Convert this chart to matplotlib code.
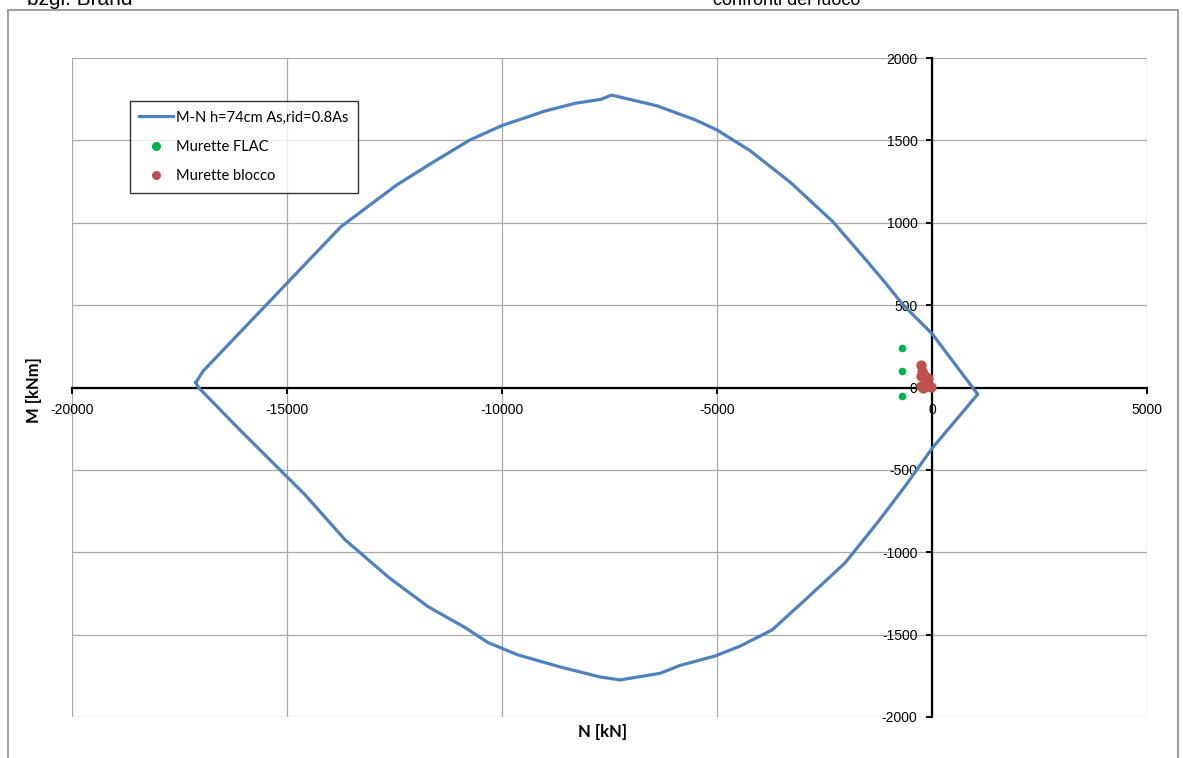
import matplotlib
matplotlib.use("Agg")
import matplotlib.pyplot as plt
from matplotlib.lines import Line2D
from matplotlib.patches import Rectangle

plt.rcParams["axes.unicode_minus"] = False

# ---- data ----
# M-N interaction curve (N [kN], M [kNm]), upper branch left->right, lower branch right->left
curve_N = [-17120, -16950, -13750, -12450, -11650, -10750, -10000, -9000, -8300, -7700,
           -7450, -6400, -5500, -5000, -4250, -3300, -2300, -1520, -1100, -667, 0, 1063,
           0, -628, -1256, -2023, -2953, -3721, -4465, -5047, -5860, -6326, -7256,
           -7721, -8651, -9628, -10326, -10860, -11721, -12628, -13651, -14581, -16093,
           -17070, -17120]
curve_M = [30, 100, 975, 1229, 1360, 1502, 1590, 1678, 1725, 1749,
           1775, 1710, 1624, 1563, 1441, 1247, 1005, 770, 640, 500, 327, -41,
           -370, -600, -816, -1065, -1290, -1472, -1570, -1630, -1687, -1735, -1775,
           -1757, -1696, -1623, -1548, -1457, -1330, -1154, -924, -651, -258,
           3, 30]

flac_N = [-703, -703, -703]
flac_M = [240, 99, -53]

blocco_N = [-250, -230, -255, -180, -95, -255, -150, -80, -30, -200]
blocco_M = [135, 100, 68, 75, 60, 10, 20, 8, 5, -5]

x_ticks = [-20000, -15000, -10000, -5000, 0, 5000]
y_ticks = [-2000, -1500, -1000, -500, 0, 500, 1000, 1500, 2000]

label_curve = "M-N h=74cm As,rid=0.8As"
label_flac = "Murette FLAC"
label_blocco = "Murette blocco"

# ---- figure ----
W, H = 1183, 758
fig = plt.figure(figsize=(W / 100, H / 100), dpi=100)
fig.patch.set_facecolor("white")

# outer chart frame
fig.add_artist(Rectangle((8 / W, 1 - 1000 / H), (1178 - 8) / W, (1000 - 10) / H,
                         transform=fig.transFigure, fill=False,
                         edgecolor="#8c8c8c", linewidth=1.2))

# cut-off page text
fig.text(27 / W, 1 - 5 / H, "bzgl. Brand", family="Liberation Sans", fontsize=15,
         ha="left", va="baseline")
fig.text(713 / W, 1 - 5 / H, "confronti del fuoco", family="Liberation Sans", fontsize=13,
         ha="left", va="baseline")

ax = fig.add_axes([72 / W, (H - 717) / H, 1075 / W, 659 / H])
ax.set_xlim(-20000, 5000)
ax.set_ylim(-2000, 2000)
ax.set_xticks(x_ticks)
ax.set_yticks(y_ticks)
ax.grid(True, color="#aaaaaa", linewidth=0.9)
ax.set_axisbelow(True)

for s in ["top", "right"]:
    ax.spines[s].set_visible(False)
ax.spines["left"].set_position(("data", 0))
ax.spines["bottom"].set_position(("data", 0))
for s in ["left", "bottom"]:
    ax.spines[s].set_color("black")
    ax.spines[s].set_linewidth(1.6)
    ax.spines[s].set_zorder(2.5)

ax.tick_params(axis="both", direction="out", length=4, width=1.4, color="black",
               labelsize=10)
ax.tick_params(axis="x", pad=7)
ax.tick_params(axis="y", pad=6.5)
for lab in ax.get_xticklabels() + ax.get_yticklabels():
    lab.set_family("Liberation Sans")

ax.plot(curve_N, curve_M, color="#4f81bd", linewidth=2.3, zorder=3,
        solid_joinstyle="round")
ax.scatter(flac_N, flac_M, s=30, color="#00b050", zorder=4, linewidths=0)
ax.scatter(blocco_N, blocco_M, s=55, color="#c0504d", zorder=4, linewidths=0)

handles = [
    Line2D([], [], color="#4f81bd", linewidth=2.3),
    Line2D([], [], color="#00b050", marker="o", linestyle="none", markersize=5.5),
    Line2D([], [], color="#c0504d", marker="o", linestyle="none", markersize=5.5),
]
leg = fig.legend(handles, [label_curve, label_flac, label_blocco],
                 loc="upper left", bbox_to_anchor=(129.5 / W, 1 - 101 / H),
                 bbox_transform=fig.transFigure, frameon=True, fancybox=False,
                 edgecolor="black", prop={"family": "Lato", "size": 10.5},
                 handlelength=2.3, handletextpad=0.25, borderpad=0.65,
                 labelspacing=1.05, borderaxespad=0)
leg.get_frame().set_linewidth(1.0)

fig.text(603 / W, 1 - 732 / H, "N [kN]", family="Lato", fontweight="bold",
         fontsize=12, ha="center", va="center")
fig.text(34 / W, 1 - 390 / H, "M [kNm]", family="Lato", fontweight="bold",
         fontsize=12, ha="center", va="center", rotation=90)

fig.savefig("out.png", dpi=100)
